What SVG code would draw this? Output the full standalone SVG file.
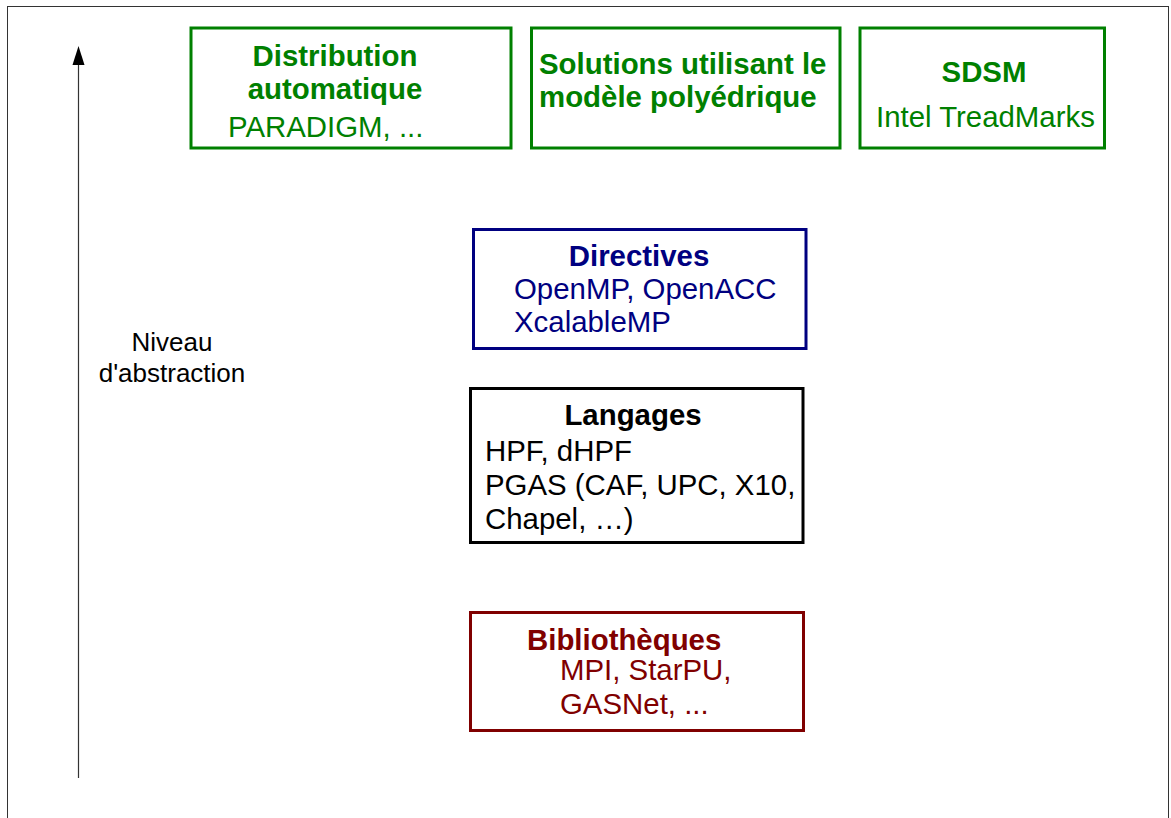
<svg xmlns="http://www.w3.org/2000/svg" width="1171" height="818" viewBox="0 0 1171 818">
<defs>
<style>
.box{fill:#fff;stroke-width:3;}
.t{font-family:"Liberation Sans",Arial,sans-serif;font-size:29.4px;}
.b{font-weight:bold;}
.g{fill:#008000;} .gs{stroke:#008000;}
.n{fill:#000080;} .ns{stroke:#000080;}
.k{fill:#000;} .ks{stroke:#000;}
.r{fill:#800000;} .rs{stroke:#800000;}
</style>
</defs>
<rect x="0" y="0" width="1171" height="818" fill="#fff"/>
<rect x="7.5" y="6.5" width="1161" height="830" fill="none" stroke="#333" stroke-width="1"/>
<g id="connectors">
<line x1="78.5" y1="778" x2="78.5" y2="64" stroke="#333" stroke-width="1.2"/>
<path d="M72.5,65 L78.5,46 L84.5,65 Z" fill="#000"/>
</g>
<g id="label-niveau">
<text class="t k" style="font-size:26px" x="172" y="351" text-anchor="middle">Niveau</text>
<text class="t k" style="font-size:26px" x="172" y="382" text-anchor="middle">d'abstraction</text>
</g>
<g id="node-distribution">
<rect class="box gs" x="191" y="28" width="320" height="120"/>
<text class="t b g" x="335" y="66" text-anchor="middle">Distribution</text>
<text class="t b g" x="335" y="99" text-anchor="middle">automatique</text>
<text class="t g" x="228" y="137">PARADIGM, ...</text>
</g>
<g id="node-polyedrique">
<rect class="box gs" x="531.5" y="28" width="308.5" height="120"/>
<text class="t b g" x="539" y="74">Solutions utilisant le</text>
<text class="t b g" x="539" y="107">modèle polyédrique</text>
</g>
<g id="node-sdsm">
<rect class="box gs" x="860" y="28" width="244.5" height="120"/>
<text class="t b g" x="984" y="81.5" text-anchor="middle">SDSM</text>
<text class="t g" x="876" y="126.5">Intel TreadMarks</text>
</g>
<g id="node-directives">
<rect class="box ns" x="473.5" y="229.5" width="332.5" height="119"/>
<text class="t b n" x="639" y="266" text-anchor="middle">Directives</text>
<text class="t n" x="514" y="298.5">OpenMP, OpenACC</text>
<text class="t n" x="514" y="331.5">XcalableMP</text>
</g>
<g id="node-langages">
<rect class="box ks" x="470.5" y="388.5" width="332.5" height="154"/>
<text class="t b k" x="633" y="425" text-anchor="middle">Langages</text>
<text class="t k" x="485" y="461">HPF, dHPF</text>
<text class="t k" x="485" y="495">PGAS (CAF, UPC, X10,</text>
<text class="t k" x="485" y="528.5">Chapel, …)</text>
</g>
<g id="node-bibliotheques">
<rect class="box rs" x="470.5" y="612.5" width="333" height="118"/>
<text class="t b r" x="527" y="649.5">Bibliothèques</text>
<text class="t r" x="560" y="680">MPI, StarPU,</text>
<text class="t r" x="560" y="713.5">GASNet, ...</text>
</g>
</svg>
